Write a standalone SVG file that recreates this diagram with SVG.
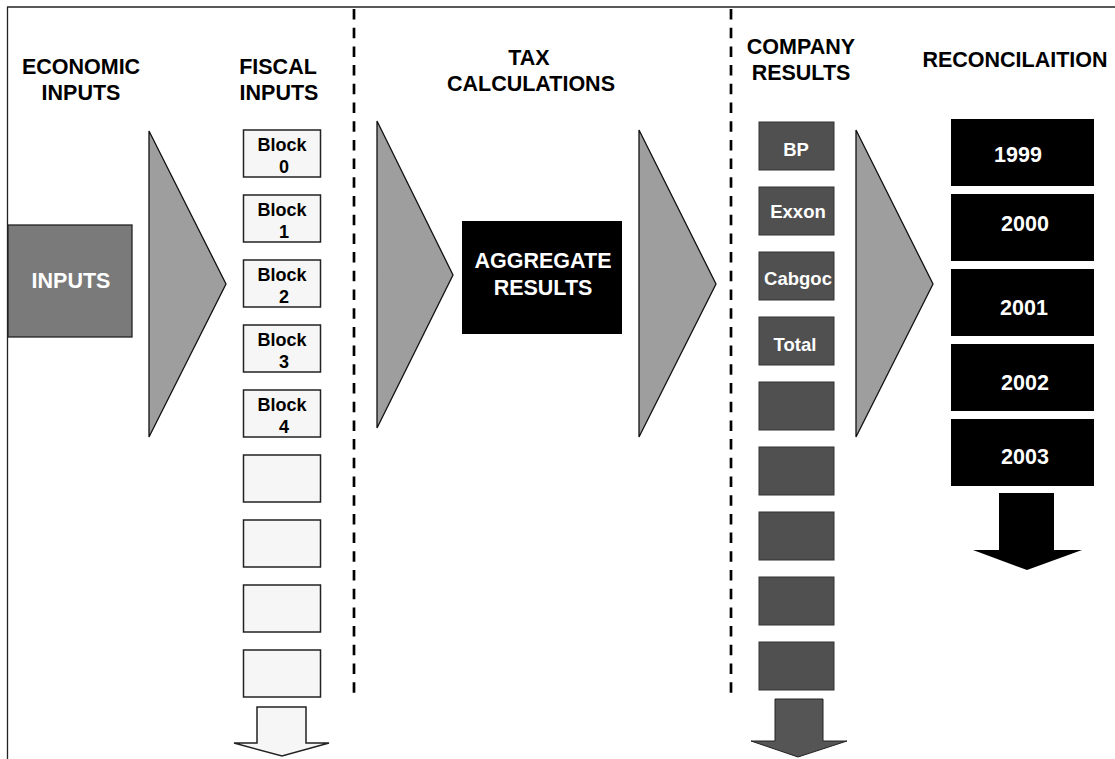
<svg xmlns="http://www.w3.org/2000/svg" width="1115" height="759" viewBox="0 0 1115 759">
<style>
.hdr{font-family:"Liberation Sans",Arial,sans-serif;font-weight:bold;font-size:21.5px;fill:#000;text-anchor:middle}
.blk{font-family:"Liberation Sans",Arial,sans-serif;font-weight:bold;font-size:18px;fill:#000;text-anchor:middle}
.wt{font-family:"Liberation Sans",Arial,sans-serif;font-weight:bold;fill:#fff;text-anchor:middle}
.fiscal{fill:#f6f6f6;stroke:#222;stroke-width:1.5}
.comp{fill:#505050;stroke:#333;stroke-width:1}
.year{fill:#000}
.tri{fill:#9e9e9e;stroke:#111;stroke-width:1.3}
.dash{stroke:#000;stroke-width:2.7;stroke-dasharray:10.5 8.2;fill:none}
</style>
<rect width="1115" height="759" fill="#fff"/>
<g id="frame">
<line x1="7" y1="7" x2="1115" y2="7" stroke="#222" stroke-width="1.5"/>
<line x1="7.5" y1="7" x2="7.5" y2="759" stroke="#222" stroke-width="1.3"/>
<line class="dash" x1="354" y1="9" x2="354" y2="698"/>
<line class="dash" x1="731" y1="9" x2="731" y2="698"/>
</g>
<g id="headers">
<text class="hdr" x="81" y="74">ECONOMIC</text>
<text class="hdr" x="81" y="100">INPUTS</text>
<text class="hdr" x="278" y="74">FISCAL</text>
<text class="hdr" x="279" y="100">INPUTS</text>
<text class="hdr" x="529" y="65">TAX</text>
<text class="hdr" x="531" y="91">CALCULATIONS</text>
<text class="hdr" x="801" y="54">COMPANY</text>
<text class="hdr" x="801" y="80">RESULTS</text>
<text class="hdr" x="1015" y="67">RECONCILAITION</text>
</g>
<g id="inputs">
<rect x="8" y="225" width="124" height="112" fill="#7a7a7a" stroke="#222" stroke-width="1.3"/>
<text class="wt" x="71" y="288" font-size="21.5">INPUTS</text>
</g>
<g id="fiscal-inputs">
<g id="block0"><rect class="fiscal" x="243.5" y="130" width="77" height="47"/><text class="blk" x="282" y="151">Block</text><text class="blk" x="284" y="173">0</text></g>
<g id="block1"><rect class="fiscal" x="243.5" y="195" width="77" height="47"/><text class="blk" x="282" y="216">Block</text><text class="blk" x="284" y="238">1</text></g>
<g id="block2"><rect class="fiscal" x="243.5" y="260" width="77" height="47"/><text class="blk" x="282" y="281">Block</text><text class="blk" x="284" y="303">2</text></g>
<g id="block3"><rect class="fiscal" x="243.5" y="325" width="77" height="47"/><text class="blk" x="282" y="346">Block</text><text class="blk" x="284" y="368">3</text></g>
<g id="block4"><rect class="fiscal" x="243.5" y="390" width="77" height="47"/><text class="blk" x="282" y="411">Block</text><text class="blk" x="284" y="433">4</text></g>
<g id="block5"><rect class="fiscal" x="243.5" y="455" width="77" height="47"/></g>
<g id="block6"><rect class="fiscal" x="243.5" y="520" width="77" height="47"/></g>
<g id="block7"><rect class="fiscal" x="243.5" y="585" width="77" height="47"/></g>
<g id="block8"><rect class="fiscal" x="243.5" y="650" width="77" height="47"/></g>
</g>
<g id="aggregate">
<rect x="462" y="221" width="160" height="113" fill="#000"/>
<text class="wt" x="543" y="268" font-size="21.5">AGGREGATE</text>
<text class="wt" x="543" y="295" font-size="21.5">RESULTS</text>
</g>
<g id="company-results">
<g id="bp"><rect class="comp" x="759" y="122" width="75" height="48"/><text class="wt" x="796" y="156" font-size="18.5">BP</text></g>
<g id="exxon"><rect class="comp" x="759" y="187" width="75" height="48"/><text class="wt" x="798" y="218" font-size="18.5">Exxon</text></g>
<g id="cabgoc"><rect class="comp" x="759" y="252" width="75" height="48"/><text class="wt" x="798" y="285" font-size="18.5">Cabgoc</text></g>
<g id="total"><rect class="comp" x="759" y="317" width="75" height="48"/><text class="wt" x="795" y="351" font-size="18.5">Total</text></g>
<g id="comp5"><rect class="comp" x="759" y="382" width="75" height="48"/></g>
<g id="comp6"><rect class="comp" x="759" y="447" width="75" height="48"/></g>
<g id="comp7"><rect class="comp" x="759" y="512" width="75" height="48"/></g>
<g id="comp8"><rect class="comp" x="759" y="577" width="75" height="48"/></g>
<g id="comp9"><rect class="comp" x="759" y="642" width="75" height="48"/></g>
</g>
<g id="reconciliation">
<g id="y1999"><rect class="year" x="951" y="119" width="143" height="67"/><text class="wt" x="1018" y="162" font-size="21.5">1999</text></g>
<g id="y2000"><rect class="year" x="951" y="194" width="143" height="67"/><text class="wt" x="1025" y="231" font-size="21.5">2000</text></g>
<g id="y2001"><rect class="year" x="951" y="269" width="143" height="67"/><text class="wt" x="1024" y="315" font-size="21.5">2001</text></g>
<g id="y2002"><rect class="year" x="951" y="344" width="143" height="67"/><text class="wt" x="1025" y="390" font-size="21.5">2002</text></g>
<g id="y2003"><rect class="year" x="951" y="419" width="143" height="67"/><text class="wt" x="1025" y="464" font-size="21.5">2003</text></g>
</g>
<g id="connectors">
<polygon class="tri" points="149,131 226,284 149,437"/>
<polygon class="tri" points="377,121 453,275 377,428"/>
<polygon class="tri" points="639,130 716,284 639,437"/>
<polygon class="tri" points="856,130 933,284 856,437"/>
<polygon points="257,707 306,707 306,743 329,743 282,756 234,743 257,743" fill="#f6f6f6" stroke="#222" stroke-width="1.5"/>
<polygon points="775,699 823,699 823,741 847,741 798,757 751,741 775,741" fill="#555" stroke="#222" stroke-width="1"/>
<polygon points="999,493 1054,493 1054,550 1082,550 1027,570 973,550 999,550" fill="#000"/>
</g>
</svg>
